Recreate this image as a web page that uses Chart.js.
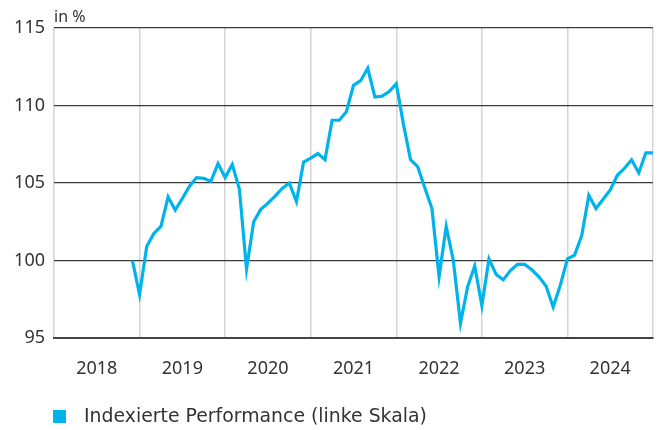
<!DOCTYPE html>
<html>
<head>
<meta charset="utf-8">
<script src="https://cdn.jsdelivr.net/npm/chart.js@4/dist/chart.umd.min.js"></script>
<style>
html,body{margin:0;padding:0;background:#fff;overflow:hidden;}
canvas{display:block;}
</style>
</head>
<body>
<canvas id="c" width="658" height="430" style="width:658px;height:430px"></canvas>
<script>
// Month labels (first month of the series is Dec 2018, last is Jan 2025)
const months = ["2018-12",
 "2019-01","2019-02","2019-03","2019-04","2019-05","2019-06","2019-07","2019-08","2019-09","2019-10","2019-11","2019-12",
 "2020-01","2020-02","2020-03","2020-04","2020-05","2020-06","2020-07","2020-08","2020-09","2020-10","2020-11","2020-12",
 "2021-01","2021-02","2021-03","2021-04","2021-05","2021-06","2021-07","2021-08","2021-09","2021-10","2021-11","2021-12",
 "2022-01","2022-02","2022-03","2022-04","2022-05","2022-06","2022-07","2022-08","2022-09","2022-10","2022-11","2022-12",
 "2023-01","2023-02","2023-03","2023-04","2023-05","2023-06","2023-07","2023-08","2023-09","2023-10","2023-11","2023-12",
 "2024-01","2024-02","2024-03","2024-04","2024-05","2024-06","2024-07","2024-08","2024-09","2024-10","2024-11","2024-12",
 "2025-01"];
const performance = [100.0,
 97.8,100.9,101.75,102.2,104.1,103.25,104.0,104.8,105.35,105.3,105.1,106.25,
 105.35,106.2,104.6,99.45,102.5,103.3,103.7,104.15,104.65,105.0,103.8,106.35,
 106.6,106.9,106.5,109.05,109.05,109.6,111.3,111.6,112.4,110.55,110.6,110.9,
 111.4,108.8,106.5,106.05,104.7,103.35,98.95,102.2,100.0,95.95,98.3,99.65,
 97.1,100.1,99.1,98.75,99.35,99.75,99.75,99.4,98.95,98.35,97.0,98.4,
 100.1,100.35,101.6,104.2,103.35,103.95,104.55,105.5,105.95,106.5,105.65,106.95,
 106.95];
const years = ["2018","2019","2020","2021","2022","2023","2024"];
const yTicks = [95,100,105,110,115];
const seriesName = "Indexierte Performance (linke Skala)";
const unitLabel = "in %";

const firstYear = parseInt(years[0],10);
// Points sit on month boundaries: index = months since Jan of first year
function monthIndex(m){ const [y,mo]=m.split("-").map(Number); return (y-firstYear)*12 + (mo-1); }
const pts = months.map((m,i)=>({x: monthIndex(m), y: performance[i]}));

const FONT = "'Noto Sans', sans-serif";
const LEGFONT = "'DejaVu Sans', sans-serif";
const LINE = "#00b4eb";
const TXT = "#333333";

const overlay = {
  id:'overlay',
  afterDraw(chart){
    const ctx = chart.ctx, ca = chart.chartArea;
    ctx.save();
    ctx.fillStyle = TXT;
    ctx.font = "16px " + FONT;
    ctx.textBaseline = "alphabetic";
    ctx.textAlign = "left";
    ctx.fillText(unitLabel, ca.left, 22);
    // legend
    ctx.fillStyle = LINE;
    ctx.fillRect(53, 410, 13, 13);
    ctx.fillStyle = TXT;
    let fs = 17;
    ctx.font = fs + "px " + LEGFONT;
    const w = ctx.measureText(seriesName).width;
    fs = Math.min(20, Math.max(14, fs * 343 / w));
    ctx.font = fs.toFixed(2) + "px " + LEGFONT;
    ctx.textBaseline = "middle";
    ctx.fillText(seriesName, 84, 417);
    ctx.restore();
  }
};

new Chart(document.getElementById('c'), {
  type: 'line',
  data: { datasets: [{
    label: seriesName,
    data: pts,
    borderColor: LINE,
    backgroundColor: LINE,
    borderWidth: 3.2,
    pointRadius: 0,
    tension: 0,
    borderJoinStyle: 'miter'
  }]},
  options: {
    responsive: false,
    animation: false,
    events: [],
    devicePixelRatio: 1,
    layout: { padding: { top: 28, right: 5, bottom: 42, left: 0 } },
    plugins: { legend: { display: false }, tooltip: { enabled: false } },
    scales: {
      x: {
        type: 'linear',
        min: 0, max: years.length*12,
        afterBuildTicks(scale){
          const t=[]; for(let v=0; v<=years.length*12; v+=6) t.push({value:v});
          scale.ticks = t;
        },
        afterFit(scale){ scale.height = 50; },
        ticks: {
          autoSkip: false, maxRotation: 0, padding: 0,
          color: TXT, font: { family: FONT, size: 18 },
          callback(v){ return (v % 12 === 6) ? years[(v-6)/12] : ''; }
        },
        grid: {
          drawTicks: true,
          tickLength: 20,
          tickColor: 'rgba(0,0,0,0)',
          color(ctx){ return (ctx.tick && ctx.tick.value % 12 === 0) ? '#d4d4d4' : 'rgba(0,0,0,0)'; },
          lineWidth: 1.5
        },
        border: { display: true, color: '#444', width: 2 }
      },
      y: {
        min: yTicks[0], max: yTicks[yTicks.length-1],
        afterBuildTicks(scale){ scale.ticks = yTicks.map(v=>({value:v})); },
        afterFit(scale){ scale.width = 54; },
        ticks: { padding: 9, color: TXT, font: { family: FONT, size: 18 } },
        grid: { drawTicks: false, color: '#3a3a3a', lineWidth: 1.3 },
        border: { display: false }
      }
    }
  },
  plugins: [overlay]
});
</script>
</body>
</html>
